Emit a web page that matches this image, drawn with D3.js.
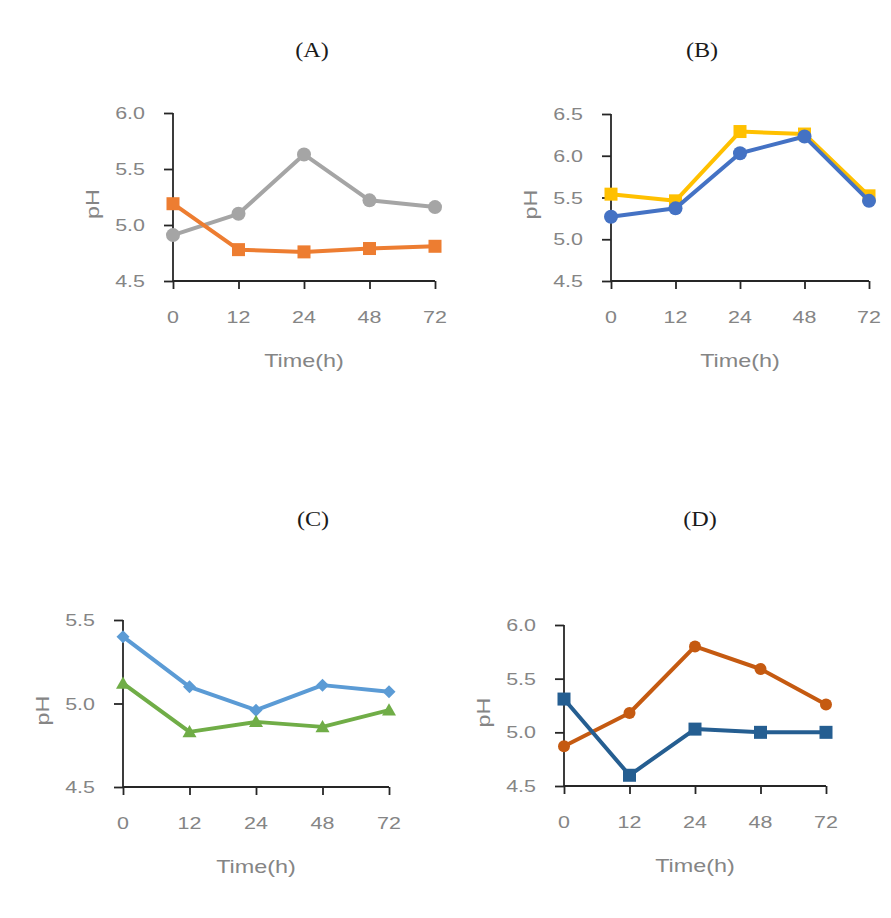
<!DOCTYPE html>
<html>
<head>
<meta charset="utf-8">
<script src="https://cdn.jsdelivr.net/npm/d3@7"></script>
<style>
  html, body { margin: 0; padding: 0; background: #ffffff; }
  svg { display: block; }
</style>
</head>
<body>
<script>
// ---------------- DATA ----------------
const timeLabels = ["0", "12", "24", "48", "72"];

const yTicksA = [4.5, 5.0, 5.5, 6.0];
const yTicksB = [4.5, 5.0, 5.5, 6.0, 6.5];
const yTicksC = [4.5, 5.0, 5.5];
const yTicksD = [4.5, 5.0, 5.5, 6.0];

const aGray   = [4.91, 5.10, 5.63, 5.22, 5.16];
const aOrange = [5.19, 4.78, 4.76, 4.79, 4.81];

const bYellow = [5.54, 5.46, 6.29, 6.26, 5.52];
const bBlue   = [5.27, 5.37, 6.03, 6.23, 5.46];

const cBlue   = [5.40, 5.10, 4.96, 5.11, 5.07];
const cGreen  = [5.12, 4.83, 4.89, 4.86, 4.96];

const dBrown  = [4.87, 5.18, 5.80, 5.59, 5.26];
const dBlue   = [5.31, 4.60, 5.03, 5.00, 5.00];

const panelTitles = ["(A)", "(B)", "(C)", "(D)"];
const xTitle = "Time(h)";
const yTitle = "pH";

// ---------------- LAYOUT / STYLE ----------------
const W = 891, H = 918;
const svg = d3.select("body").append("svg").attr("width", W).attr("height", H);

const panels = [
  { title: panelTitles[0], tx: 312, ty: 57, x0: 173, x1: 435, yTop: 113, yBot: 281, ticks: yTicksA,
    series: [
      { values: aGray,   color: "#a5a5a5", shape: "circle",  size: 7 },
      { values: aOrange, color: "#ed7d31", shape: "square",  size: 13 }
    ] },
  { title: panelTitles[1], tx: 702, ty: 57, x0: 611, x1: 869, yTop: 114, yBot: 281, ticks: yTicksB,
    series: [
      { values: bYellow, color: "#ffc000", shape: "square",  size: 13 },
      { values: bBlue,   color: "#4472c4", shape: "circle",  size: 7 }
    ] },
  { title: panelTitles[2], tx: 313, ty: 526, x0: 123, x1: 389, yTop: 620, yBot: 787, ticks: yTicksC,
    series: [
      { values: cBlue,  color: "#5b9bd5", shape: "diamond",  size: 13 },
      { values: cGreen, color: "#70ad47", shape: "triangle", size: 14 }
    ] },
  { title: panelTitles[3], tx: 700, ty: 526, x0: 564, x1: 826, yTop: 625, yBot: 786, ticks: yTicksD,
    series: [
      { values: dBrown, color: "#c55a11", shape: "circle", size: 6 },
      { values: dBlue,  color: "#255e91", shape: "square", size: 13 }
    ] }
];

const axisColor = "#262626";
const textColor = "#858585";
const sansFont = "'Liberation Sans', Arial, sans-serif";
const serifFont = "'Liberation Serif', 'Times New Roman', serif";
const stretch = 1.3;

function stretchedText(g, x, y, str, size, anchor) {
  return g.append("text")
    .attr("transform", `translate(${x},${y}) scale(${stretch},1)`)
    .attr("text-anchor", anchor || "middle")
    .attr("font-family", sansFont)
    .attr("font-size", size)
    .attr("fill", textColor)
    .text(str);
}

panels.forEach(p => {
  const g = svg.append("g");
  const x = d3.scalePoint().domain(timeLabels).range([p.x0, p.x1]).padding(0);
  const y = d3.scaleLinear()
    .domain([d3.min(p.ticks), d3.max(p.ticks)])
    .range([p.yBot, p.yTop]);

  // title
  g.append("text")
    .attr("transform", `translate(${p.tx},${p.ty}) scale(1.1,1)`)
    .attr("text-anchor", "middle")
    .attr("font-family", serifFont)
    .attr("font-size", 22)
    .attr("fill", "#1a1a1a")
    .text(p.title);

  // y axis
  const yAxis = d3.axisLeft(y).tickValues(p.ticks).tickSize(9).tickFormat(() => "");
  const ya = g.append("g").attr("transform", `translate(${p.x0},0)`).call(yAxis);
  ya.select(".domain").attr("d", `M0,${p.yTop}V${p.yBot}`);
  ya.selectAll("path, line").attr("stroke", axisColor).attr("stroke-width", 1.8);

  // x axis
  const xAxis = d3.axisBottom(x).tickSize(8).tickFormat(() => "");
  const xa = g.append("g").attr("transform", `translate(0,${p.yBot})`).call(xAxis);
  xa.select(".domain").attr("d", `M${p.x0},0H${p.x1}`);
  xa.selectAll("path, line").attr("stroke", axisColor).attr("stroke-width", 1.8);

  // tick labels
  p.ticks.forEach(t => {
    stretchedText(g, p.x0 - 28, y(t) + 6, d3.format(".1f")(t), 16.5, "end");
  });
  timeLabels.forEach(t => {
    stretchedText(g, x(t), p.yBot + 42, t, 16.5, "middle");
  });

  // axis titles
  stretchedText(g, (p.x0 + p.x1) / 2, p.yBot + 86, xTitle, 18, "middle");
  g.append("text")
    .attr("transform", `translate(${p.x0 - 74},${(p.yTop + p.yBot) / 2 + 7}) rotate(-90) scale(${stretch},1)`)
    .attr("text-anchor", "middle")
    .attr("font-family", sansFont)
    .attr("font-size", 18)
    .attr("fill", textColor)
    .text(yTitle);

  // series
  p.series.forEach(s => {
    const line = d3.line().x((d, i) => x(timeLabels[i])).y(d => y(d));
    g.append("path")
      .datum(s.values)
      .attr("d", line)
      .attr("fill", "none")
      .attr("stroke", s.color)
      .attr("stroke-width", 4)
      .attr("stroke-linejoin", "round");

    s.values.forEach((v, i) => {
      const cx = x(timeLabels[i]), cy = y(v);
      if (s.shape === "circle") {
        g.append("circle").attr("cx", cx).attr("cy", cy).attr("r", s.size).attr("fill", s.color);
      } else if (s.shape === "square") {
        g.append("rect").attr("x", cx - s.size / 2).attr("y", cy - s.size / 2)
          .attr("width", s.size).attr("height", s.size).attr("fill", s.color);
      } else if (s.shape === "diamond") {
        const h = s.size / 2;
        g.append("path").attr("d", `M${cx},${cy - h}L${cx + h},${cy}L${cx},${cy + h}L${cx - h},${cy}Z`)
          .attr("fill", s.color);
      } else if (s.shape === "triangle") {
        const h = s.size / 2;
        g.append("path").attr("d", `M${cx},${cy - h}L${cx + h},${cy + h * 0.75}L${cx - h},${cy + h * 0.75}Z`)
          .attr("fill", s.color);
      }
    });
  });
});
</script>
</body>
</html>
